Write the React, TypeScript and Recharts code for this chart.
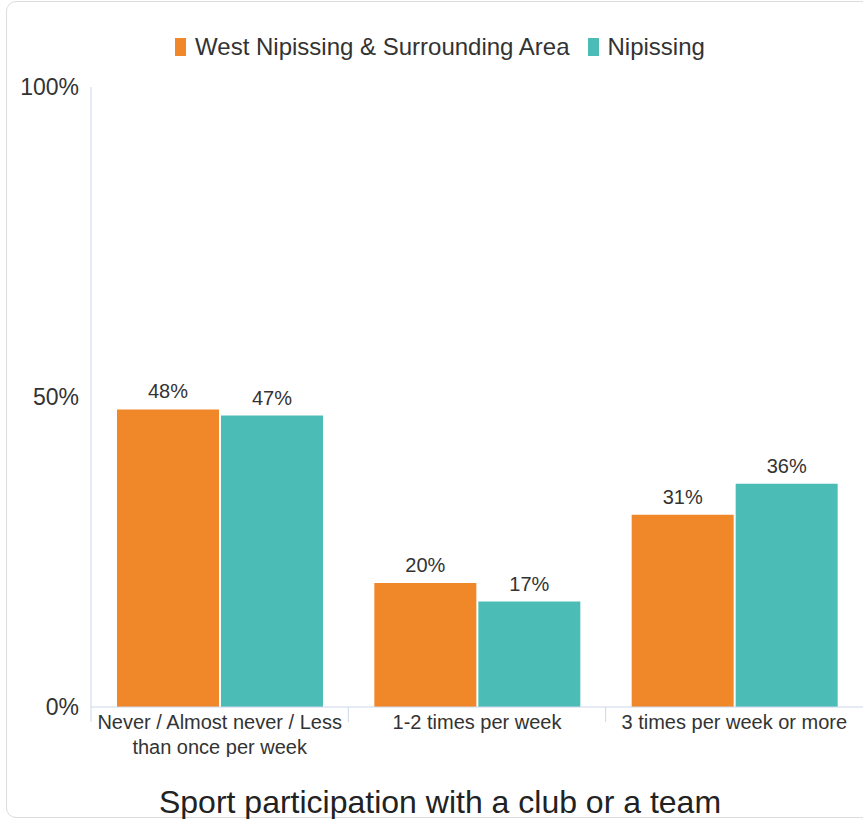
import React from 'react'
import { BarChart, Bar, XAxis, YAxis, LabelList } from 'recharts'

const categories = ['Never / Almost never / Less than once per week', '1-2 times per week', '3 times per week or more']
const categoryLines = [['Never / Almost never / Less', 'than once per week'], ['1-2 times per week'], ['3 times per week or more']]
const westNipissing = [48, 20, 31]
const nipissing = [47, 17, 36]
const seriesNames = ['West Nipissing & Surrounding Area', 'Nipissing']
const seriesColors = ['#F0882A', '#4CBDB6']
const yTicks = [0, 50, 100]
const title = 'Sport participation with a club or a team'

const data = categories.map((c, i) => ({ name: c, west: westNipissing[i], nip: nipissing[i] }))

const FONT = 'Arial, "Liberation Sans", Helvetica, sans-serif'
const AXIS = '#ccd6eb'

function CategoryTick(props: any) {
  const { x, y, payload, index } = props
  const half = payload.offset || 0
  const lines = categoryLines[index] || [payload.value]
  return (
    <g>
      <line x1={x - half} x2={x - half} y1={y - 8} y2={y + 7} stroke={AXIS} strokeWidth={1} />
      <text x={x} y={y + 14} textAnchor="middle" fontSize={20} fill="#333" fontFamily={FONT}>
        {lines.map((l: string, i: number) => (
          <tspan key={i} x={x} dy={i === 0 ? 0 : 25}>{l}</tspan>
        ))}
      </text>
    </g>
  )
}

export default function App() {
  return (
    <div style={{ position: 'fixed', inset: 0, overflow: 'hidden', background: '#fff', fontFamily: FONT }}>
      <div
        style={{
          position: 'absolute', left: 6, top: 1, width: 868, height: 817, boxSizing: 'border-box',
          border: '1px solid #ddd', borderRadius: 10,
        }}
      >
        <div
          style={{
            position: 'absolute', left: 0, right: 0, top: 33, display: 'flex', justifyContent: 'center',
            alignItems: 'center', fontSize: 24, lineHeight: '24px', color: '#333',
          }}
        >
          {seriesNames.map((n, i) => (
            <span key={n} style={{ display: 'flex', alignItems: 'center', marginRight: i === 0 ? 18 : 0 }}>
              <span style={{ display: 'inline-block', width: 11, height: 18, background: seriesColors[i], marginRight: 9 }} />
              {n}
            </span>
          ))}
        </div>
        <div style={{ position: 'absolute', left: 0, top: 0 }}>
          <BarChart
            width={866}
            height={755}
            data={data}
            margin={{ top: 85, right: 10, left: 0, bottom: 0 }}
            barCategoryGap={26}
            barGap={2}
          >
            <XAxis
              dataKey="name"
              height={50}
              axisLine={{ stroke: AXIS }}
              tickLine={false}
              interval={0}
              tick={<CategoryTick />}
            />
            <YAxis
              width={84}
              domain={[0, 100]}
              ticks={yTicks}
              tickFormatter={v => `${v}%`}
              axisLine={{ stroke: AXIS }}
              tickLine={false}
              tickMargin={6}
              tick={{ fontSize: 23, fill: '#333', fontFamily: FONT }}
            />
            <Bar dataKey="west" name={seriesNames[0]} fill={seriesColors[0]} isAnimationActive={false}>
              <LabelList dataKey="west" position="top" offset={11} formatter={(v: any) => `${v}%`} style={{ fontSize: 20, fill: '#333', fontFamily: FONT }} />
            </Bar>
            <Bar dataKey="nip" name={seriesNames[1]} fill={seriesColors[1]} isAnimationActive={false}>
              <LabelList dataKey="nip" position="top" offset={11} formatter={(v: any) => `${v}%`} style={{ fontSize: 20, fill: '#333', fontFamily: FONT }} />
            </Bar>
          </BarChart>
        </div>
        <div
          style={{
            position: 'absolute', left: 0, right: 0, top: 782, textAlign: 'center', fontSize: 32, color: '#222',
          }}
        >
          {title}
        </div>
      </div>
    </div>
  )
}
